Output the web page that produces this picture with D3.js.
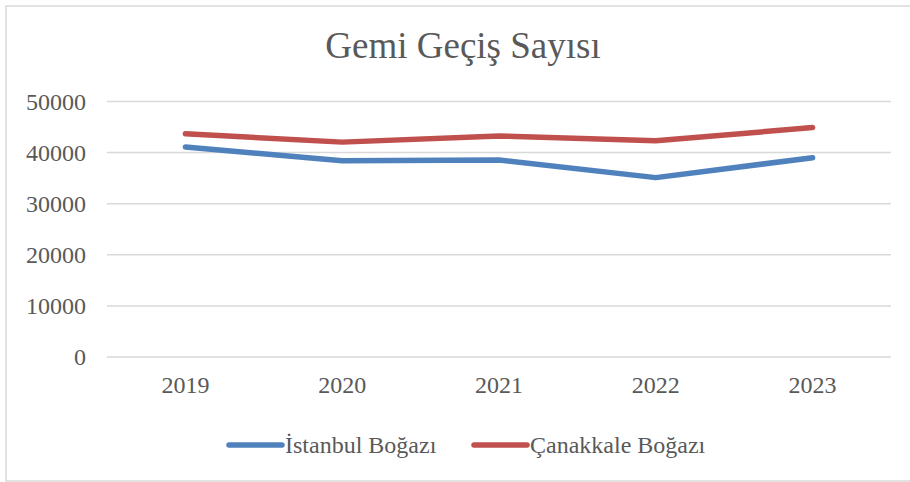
<!DOCTYPE html>
<html><head><meta charset="utf-8">
<script src="https://cdn.jsdelivr.net/npm/d3@7"></script>
<style>body{margin:0;background:#fff}svg{display:block}</style>
</head><body>
<svg id="chart" width="910" height="482"></svg>
<script>
const title = "Gemi Geçiş Sayısı";
const years = ["2019", "2020", "2021", "2022", "2023"];
const istanbul = [41100, 38400, 38550, 35100, 39000];
const canakkale = [43700, 42050, 43250, 42300, 44900];
const seriesNames = ["İstanbul Boğazı", "Çanakkale Boğazı"];
const seriesColors = ["#4F81BD", "#C0504D"];
const yTicks = [0, 10000, 20000, 30000, 40000, 50000];

(function () {
const svg = d3.select("#chart");
const font = "'Liberation Serif','Times New Roman',serif";
const textColor = "#595959";

svg.append("rect").attr("x", 6).attr("y", 6).attr("width", 910).attr("height", 475)
  .attr("fill", "#fff").attr("stroke", "#D9D9D9").attr("stroke-width", 1.5);

const pLeft = 107, pRight = 891, pTop = 101.5, pBottom = 357;
const x = d3.scaleBand().domain(years).range([pLeft, pRight]);
const y = d3.scaleLinear().domain([0, 50000]).range([pBottom, pTop]);

// gridlines
svg.append("g").selectAll("line").data(yTicks).join("line")
  .attr("x1", pLeft).attr("x2", pRight)
  .attr("y1", d => y(d)).attr("y2", d => y(d))
  .attr("stroke", "#D9D9D9").attr("stroke-width", 1.5);

// y axis
const yAxis = svg.append("g").attr("transform", `translate(${pLeft},0)`)
  .call(d3.axisLeft(y).tickValues(yTicks).tickSize(0).tickPadding(21).tickFormat(d3.format("d")));
yAxis.select(".domain").remove();
yAxis.selectAll("text").attr("font-family", font).attr("font-size", 24).attr("fill", textColor);

// x axis
const xAxis = svg.append("g").attr("transform", `translate(0,${pBottom})`)
  .call(d3.axisBottom(x).tickSize(0).tickPadding(19));
xAxis.select(".domain").remove();
xAxis.selectAll("text").attr("font-family", font).attr("font-size", 24).attr("fill", textColor);

// lines
const line = d3.line().x((d, i) => x(years[i]) + x.bandwidth() / 2).y(d => y(d));
[istanbul, canakkale].forEach((s, i) => {
  svg.append("path").datum(s).attr("d", line).attr("fill", "none")
    .attr("stroke", seriesColors[i]).attr("stroke-width", 5.5)
    .attr("stroke-linecap", "round").attr("stroke-linejoin", "round");
});

// title
svg.append("text").attr("x", 463).attr("y", 58).attr("text-anchor", "middle")
  .attr("font-family", font).attr("font-size", 37).attr("fill", textColor).text(title);

// legend
const legendX = [229, 474];
seriesNames.forEach((n, i) => {
  const g = svg.append("g").attr("transform", `translate(${legendX[i]},445)`);
  g.append("line").attr("x1", 0).attr("x2", 53).attr("y1", 0).attr("y2", 0)
    .attr("stroke", seriesColors[i]).attr("stroke-width", 5.5).attr("stroke-linecap", "round");
  g.append("text").attr("x", 56).attr("y", 8).attr("font-family", font)
    .attr("font-size", 24).attr("fill", textColor).text(n);
});
})();
</script>
</body></html>
